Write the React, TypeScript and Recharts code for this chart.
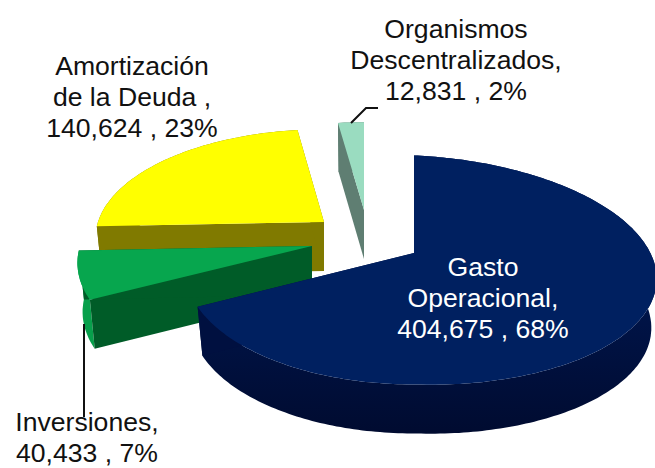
import { PieChart, Pie, Cell } from "recharts";

// drawing order: counter-clockwise from 12 o'clock, so navy ends up on top
const categories = ["Organismos Descentralizados", "Amortización de la Deuda", "Inversiones", "Gasto Operacional"];
const amounts = [12831, 140624, 40433, 404675];
const percents = [2, 23, 7, 68];
const nameLines = [
  ["Organismos", "Descentralizados,"],
  ["Amortización", "de la Deuda ,"],
  ["Inversiones,"],
  ["Gasto", "Operacional,"],
];

const data = categories.map((name, i) => ({
  name,
  value: amounts[i],
  lines: [...nameLines[i], `${amounts[i].toLocaleString("en-US")} , ${percents[i]}%`],
}));

const CX = 414;
const CY = 253;
const DEPTH = 49;

type Look = {
  top: string;
  arcWall: string;
  cutWall: string;
  dx: number;
  dy: number;
  sy: number;
  rxLeft: number;
  tilt: number;
  text: string;
  tx: number;
  ty: number;
  leader?: string;
};

const LOOK: Record<string, Look> = {
  "Gasto Operacional": { top: "#002060", arcWall: "url(#navyWall)", cutWall: "#001040", dx: 0, dy: 0, sy: 1, rxLeft: 226, tilt: 9, text: "#fff", tx: 483, ty: 276 },
  Inversiones: { top: "#07A64E", arcWall: "#07A04B", cutWall: "#005C28", dx: -102, dy: -7, sy: 1, rxLeft: 232, tilt: 0, text: "#111", tx: 87, ty: 431, leader: "M84 324V417" },
  "Amortización de la Deuda": { top: "#FFFF00", arcWall: "#807A00", cutWall: "#807A00", dx: -90, dy: -31, sy: 0.95, rxLeft: 226, tilt: 0, text: "#111", tx: 132, ty: 75 },
  "Organismos Descentralizados": { top: "#9ADCC0", arcWall: "#5F7E72", cutWall: "#5F7E72", dx: -50, dy: -43, sy: 0.9, rxLeft: 222, tilt: 0, text: "#111", tx: 456, ty: 38, leader: "M351 123L366 108H378" },
};

// flat disc in perspective: the back of the pie is squeezed, the front is stretched
function project(clockDeg: number, r: number, look: Look) {
  const t = (clockDeg * Math.PI) / 180;
  const u = Math.sin(t) * r;
  const v = -Math.cos(t) * r;
  const w = 1 - 0.148 * v;
  const rx = u > 0 ? 240 : look.rxLeft;
  return { x: (rx * u) / w, y: (112 * look.sy * v) / w + (u > 0 ? look.tilt * u : 0) };
}

function SliceShape(props: any) {
  const look = LOOK[props.name] ?? LOOK["Gasto Operacional"];
  const ax = props.cx + look.dx;
  const ay = props.cy + look.dy;
  const from = 90 - props.endAngle + 360;
  const to = 90 - props.startAngle + 360;

  const arc: { x: number; y: number }[] = [];
  const steps = Math.max(4, Math.ceil(to - from));
  for (let i = 0; i <= steps; i++) {
    const p = project(from + ((to - from) * i) / steps, 1, look);
    arc.push({ x: ax + p.x, y: ay + p.y });
  }
  const lower = (p: { x: number; y: number }) => ({ x: p.x + (ax - p.x) * 0.022, y: p.y + DEPTH });
  const line = (pts: { x: number; y: number }[]) =>
    pts.map((p, i) => `${i ? "L" : "M"}${p.x.toFixed(1)} ${p.y.toFixed(1)}`).join("") + "Z";
  const apex = { x: ax, y: ay };
  const first = arc[0];
  const last = arc[arc.length - 1];

  return (
    <g>
      <defs>
        <linearGradient id="navyWall" x1="0" y1="0" x2="0" y2="1">
          <stop offset="0.55" stopColor="#001448" />
          <stop offset="1" stopColor="#000B30" />
        </linearGradient>
      </defs>
      <path d={line([...arc, ...arc.map(lower).reverse()])} fill={look.arcWall} />
      <path d={line([apex, first, lower(first), lower(apex)])} fill={look.cutWall} />
      <path d={line([apex, last, lower(last), lower(apex)])} fill={look.cutWall} />
      <path d={line([apex, ...arc])} fill={look.top} />
    </g>
  );
}

function SliceLabel(props: any) {
  const look = LOOK[props.name];
  if (!look) return null;
  return (
    <g>
      {look.leader && <path d={look.leader} fill="none" stroke="#111" strokeWidth={2} />}
      <text
        textAnchor="middle"
        fill={look.text}
        fontFamily="'Liberation Sans', Arial, sans-serif"
        fontSize={26.6}
      >
        {props.payload.lines.map((t: string, i: number) => (
          <tspan key={t} x={look.tx} y={look.ty + i * 31}>
            {t}
          </tspan>
        ))}
      </text>
    </g>
  );
}

export default function App() {
  return (
    <div style={{ position: "absolute", left: 0, top: 0, width: 655, height: 468, background: "#fff" }}>
      <PieChart width={655} height={468} margin={{ top: 0, right: 0, bottom: 0, left: 0 }}>
        <Pie
          data={data}
          dataKey="value"
          nameKey="name"
          cx={CX}
          cy={CY}
          outerRadius={100}
          startAngle={90}
          endAngle={450}
          stroke="none"
          shape={SliceShape}
          label={SliceLabel}
          labelLine={false}
          isAnimationActive={false}
        >
          {data.map((d) => (
            <Cell key={d.name} fill={LOOK[d.name].top} />
          ))}
        </Pie>
      </PieChart>
    </div>
  );
}
